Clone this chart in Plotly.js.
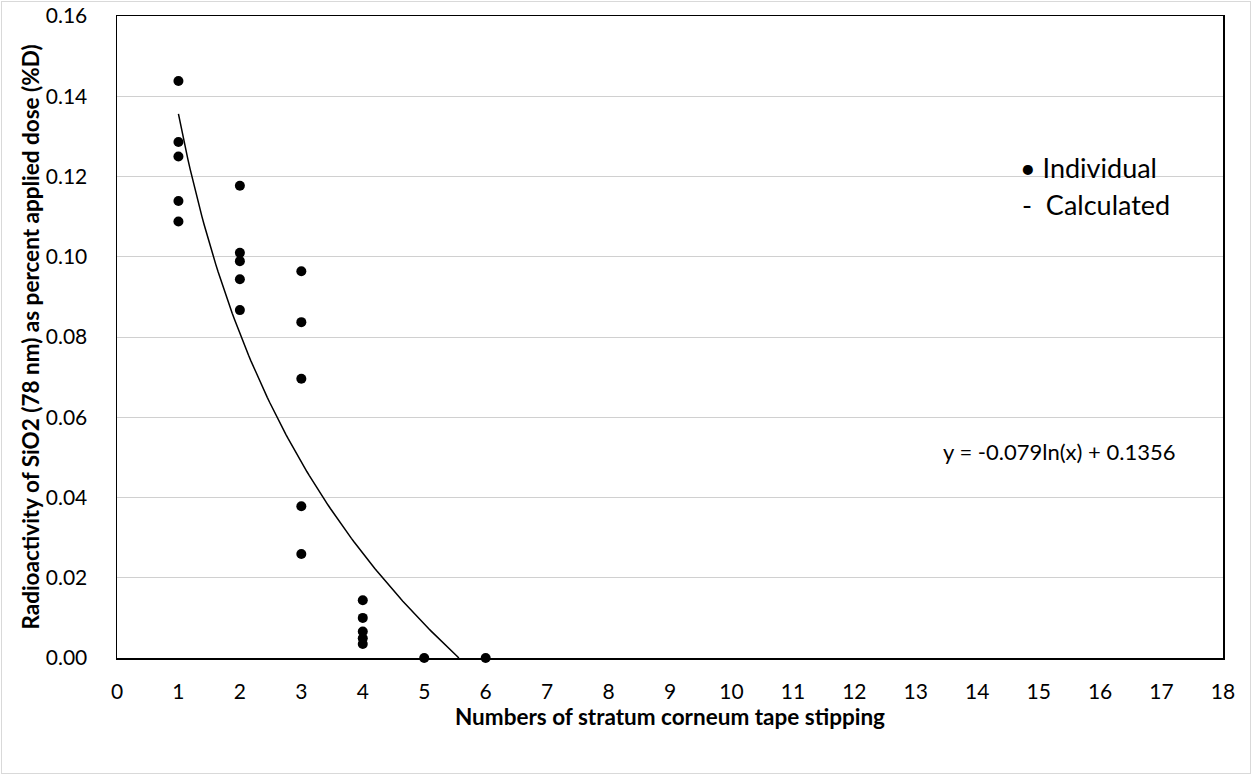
<!DOCTYPE html>
<html>
<head>
<meta charset="utf-8">
<script src="https://cdn.plot.ly/plotly-3.0.1.min.js"></script>
<style>
html,body{margin:0;padding:0;background:#fff;}
#wrap{position:relative;width:1252px;height:775px;}
#chart{width:1252px;height:775px;}
#frame{position:absolute;left:1px;top:1px;width:1248px;height:771px;border:1px solid #d9d9d9;pointer-events:none;}
</style>
</head>
<body>
<div id="wrap"><div id="chart"></div><div id="frame"></div></div>
<script>
// Individual measurements (tape strip number, %D)
const stripNumbers = [1,1,1,1,1, 2,2,2,2,2, 3,3,3,3,3, 4,4,4,4,4, 5,6];
const radioactivity = [0.1438,0.1286,0.1250,0.1139,0.1088,
                       0.1177,0.1010,0.0989,0.0944,0.0867,
                       0.0964,0.0837,0.0696,0.0378,0.0259,
                       0.0144,0.0100,0.0066,0.0049,0.0035,
                       0.0000,0.0000];
// Logarithmic trendline coefficients shown on the chart: y = a ln(x) + b
const trendA = -0.079;
const trendB = 0.1356;
const trendXStart = 1;
const trendXEnd = Math.exp(trendB / -trendA); // where the trendline reaches 0
const xTicks = [0,1,2,3,4,5,6,7,8,9,10,11,12,13,14,15,16,17,18];
const yTicks = [0,0.02,0.04,0.06,0.08,0.10,0.12,0.14,0.16];

const trendX = [], trendY = [];
const nSteps = 120;
for (let i = 0; i <= nSteps; i++) {
  const x = trendXStart + (trendXEnd - trendXStart) * i / nSteps;
  trendX.push(x);
  trendY.push(trendA * Math.log(x) + trendB);
}

const FONT = 'Lato, "Open Sans", sans-serif';

const traces = [
  {x: trendX, y: trendY, type: 'scatter', mode: 'lines', name: 'Calculated',
   line: {color: '#000', width: 1.5}, hoverinfo: 'skip', cliponaxis: false},
  {x: stripNumbers, y: radioactivity, type: 'scatter', mode: 'markers', name: 'Individual',
   marker: {color: '#000', size: 10}, cliponaxis: false}
];

const layout = {
  width: 1252, height: 775,
  margin: {l: 117, r: 29, t: 16, b: 117},
  paper_bgcolor: '#fff', plot_bgcolor: '#fff',
  showlegend: false,
  font: {family: FONT, color: '#000'},
  xaxis: {
    range: [0, 18], tickvals: xTicks, ticktext: xTicks.map(String),
    showgrid: false, zeroline: false,
    showline: true, linecolor: '#000', linewidth: 1.5, mirror: true,
    ticks: '', ticklabelstandoff: 14,
    tickfont: {family: FONT, size: 21, color: '#000'},
    title: {text: '<b>Numbers of stratum corneum tape stipping</b>',
            font: {family: FONT, size: 22.5, color: '#000'}, standoff: 6}
  },
  yaxis: {
    range: [0, 0.16], tickvals: yTicks, ticktext: yTicks.map(v => v.toFixed(2)),
    showgrid: true, gridcolor: '#d0d0d0', gridwidth: 1, zeroline: false,
    showline: true, linecolor: '#000', linewidth: 1.5, mirror: true,
    ticks: '', ticklabelstandoff: 24,
    tickfont: {family: FONT, size: 21, color: '#000'},
    title: {text: '<b>Radioactivity of SiO2 (78 nm) as percent applied dose (%D)</b>',
            font: {family: FONT, size: 22.5, color: '#000'}, standoff: 0}
  },
  annotations: [
    {x: 14.66, y: 0.1223, xref: 'x', yref: 'y', xanchor: 'left', yanchor: 'middle',
     text: '\u2022 Individual', showarrow: false, font: {family: FONT, size: 27, color: '#000'}},
    {x: 14.69, y: 0.1131, xref: 'x', yref: 'y', xanchor: 'left', yanchor: 'middle',
     text: '-  Calculated', showarrow: false, font: {family: FONT, size: 27, color: '#000'}},
    {x: 15.33, y: 0.0515, xref: 'x', yref: 'y', xanchor: 'center', yanchor: 'middle',
     text: 'y = ' + trendA.toFixed(3) + 'ln(x) + ' + trendB.toFixed(4), showarrow: false,
     font: {family: FONT, size: 22, color: '#000'}}
  ]
};

Plotly.newPlot('chart', traces, layout, {displayModeBar: false, staticPlot: true});
</script>
</body>
</html>
